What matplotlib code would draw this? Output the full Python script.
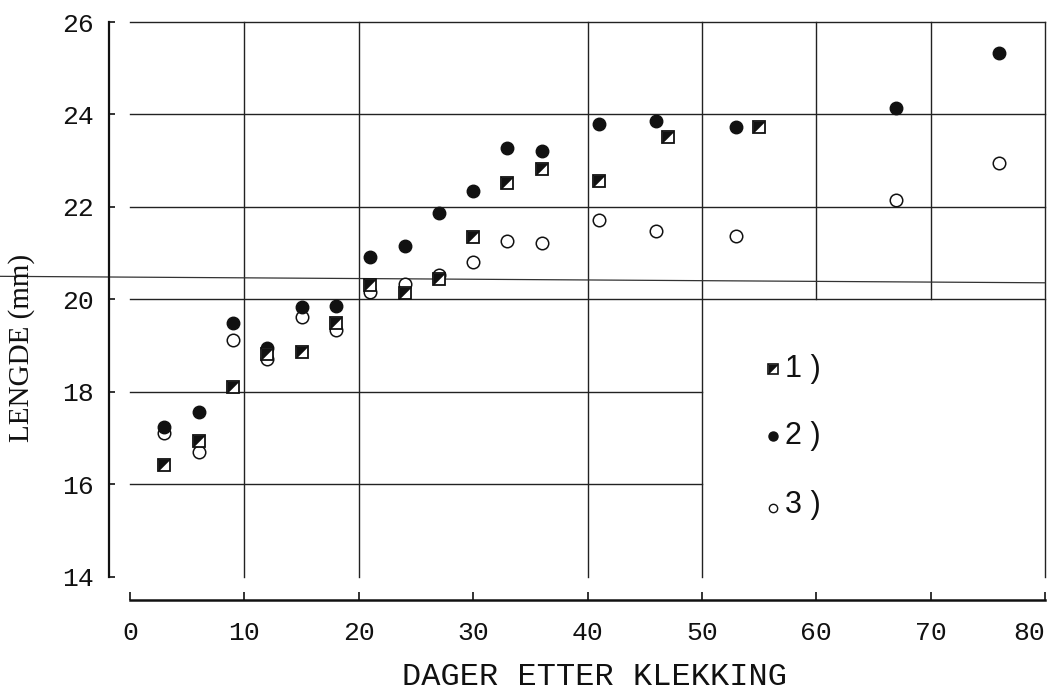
import matplotlib
matplotlib.use("Agg")
import matplotlib.pyplot as plt

# Dager etter klekking og lengde (mm) for de tre gruppene
days_1 = [3, 6, 9, 12, 15, 18, 21, 24, 27, 30, 33, 36, 41, 47, 55]
length_1 = [16.42, 16.94, 18.10, 18.83, 18.87, 19.48, 20.31, 20.15, 20.44,
            21.36, 22.52, 22.82, 22.57, 23.52, 23.74]

days_2 = [3, 6, 9, 12, 15, 18, 21, 24, 27, 30, 33, 36, 41, 46, 53, 67, 76]
length_2 = [17.25, 17.57, 19.48, 18.96, 19.84, 19.86, 20.92, 21.16, 21.88,
            22.35, 23.27, 23.22, 23.79, 23.86, 23.74, 24.13, 25.34]

days_3 = [3, 6, 9, 12, 15, 18, 21, 24, 27, 30, 33, 36, 41, 46, 53, 67, 76]
length_3 = [17.12, 16.71, 19.12, 18.71, 19.63, 19.34, 20.17, 20.33, 20.52,
            20.82, 21.26, 21.23, 21.71, 21.48, 21.37, 22.14, 22.94]

x_ticks = [0, 10, 20, 30, 40, 50, 60, 70, 80]
y_ticks = [14, 16, 18, 20, 22, 24, 26]
legend_labels = ["1 )", "2 )", "3 )"]

mono = ["Liberation Mono", "DejaVu Sans Mono"]
serif = ["Liberation Serif", "DejaVu Serif"]
sans = ["Liberation Sans", "DejaVu Sans"]
ink = "#111111"

fig = plt.figure(figsize=(10.55, 6.9), dpi=100)
ax = fig.add_axes([130 / 1055, 90 / 690, 915 / 1055, 578 / 690])
ax.set_xlim(0, 80)
ax.set_ylim(13.5, 26)

# håndtegnet rutenett
grid_kw = dict(color="#222222", lw=1.0, clip_on=False, zorder=1)
for yv in [26, 24, 22, 20]:
    ax.plot([0, 80], [yv, yv], **grid_kw)
for yv in [18, 16]:
    ax.plot([0, 50], [yv, yv], **grid_kw)
for xv in [10, 20, 40, 50, 80]:
    ax.plot([xv, xv], [14, 26], **grid_kw)
for xv in [60, 70]:
    ax.plot([xv, xv], [20, 26], **grid_kw)
# skjev strek tvers over figuren
ax.plot([-11.4, 80], [20.50, 20.36], color="#333333", lw=0.9,
        clip_on=False, zorder=1)

# halvfylt kvadrat: hvit firkant + svart trekant oppe til venstre
tri = [(-1, -1), (-1, 1), (1, 1), (-1, -1)]

ax.plot(days_3, length_3, ls="none", marker="o", ms=9, mfc="white",
        mec=ink, mew=1.1, zorder=3)
ax.plot(days_2, length_2, ls="none", marker="o", ms=9, mfc=ink,
        mec=ink, mew=1.0, zorder=4)
ax.plot(days_1, length_1, ls="none", marker="s", ms=8, mfc="white",
        mec=ink, mew=1.3, zorder=5)
ax.plot(days_1, length_1, ls="none", marker=tri, ms=8, mfc=ink,
        mec=ink, mew=0.3, zorder=6)

# forklaring
lx, tx = 56.2, 57.3
ly = [18.5, 17.05, 15.55]
ax.plot([lx], [ly[0]], ls="none", marker="s", ms=6.5, mfc="white",
        mec=ink, mew=1.2, zorder=5)
ax.plot([lx], [ly[0]], ls="none", marker=tri, ms=6.5, mfc=ink,
        mec=ink, mew=0.3, zorder=6)
ax.plot([lx], [ly[1]], ls="none", marker="o", ms=6.5, mfc=ink,
        mec=ink, zorder=5)
ax.plot([lx], [ly[2] - 0.05], ls="none", marker="o", ms=6, mfc="white",
        mec=ink, mew=1.0, zorder=5)
for yy, lab in zip(ly, legend_labels):
    ax.text(tx, yy, lab, family=sans, fontsize=22, color=ink,
            va="center", ha="left")

# akser
for side in ["top", "right"]:
    ax.spines[side].set_visible(False)
ax.spines["left"].set_position(("outward", 15))
ax.spines["left"].set_bounds(14, 26)
ax.spines["left"].set_linewidth(1.6)
ax.spines["bottom"].set_linewidth(1.8)
ax.spines["left"].set_color(ink)
ax.spines["bottom"].set_color(ink)

ax.set_xticks(x_ticks)
ax.set_yticks(y_ticks)
ax.tick_params(axis="x", direction="in", length=6, width=1.2, pad=15,
               colors=ink)
ax.tick_params(axis="y", direction="in", length=4, width=1.2, pad=11,
               colors=ink)
for t in ax.get_xticklabels() + ax.get_yticklabels():
    t.set_family(mono)
    t.set_fontsize(19)
# siste etikett skal ikke gå utenfor kanten
ax.get_xticklabels()[-1].set_horizontalalignment("right")

ax.set_xlabel("DAGER ETTER KLEKKING", family=mono, fontsize=23, color=ink)
ax.xaxis.label.set_va("center")
ax.xaxis.set_label_coords(0.508, -0.133)
ax.set_ylabel("LENGDE (mm)", family=serif, fontsize=21, color=ink)
ax.yaxis.label.set_va("center")
ax.yaxis.set_label_coords(-0.118, 0.436)

fig.savefig("out.png", dpi=100, facecolor="white")
